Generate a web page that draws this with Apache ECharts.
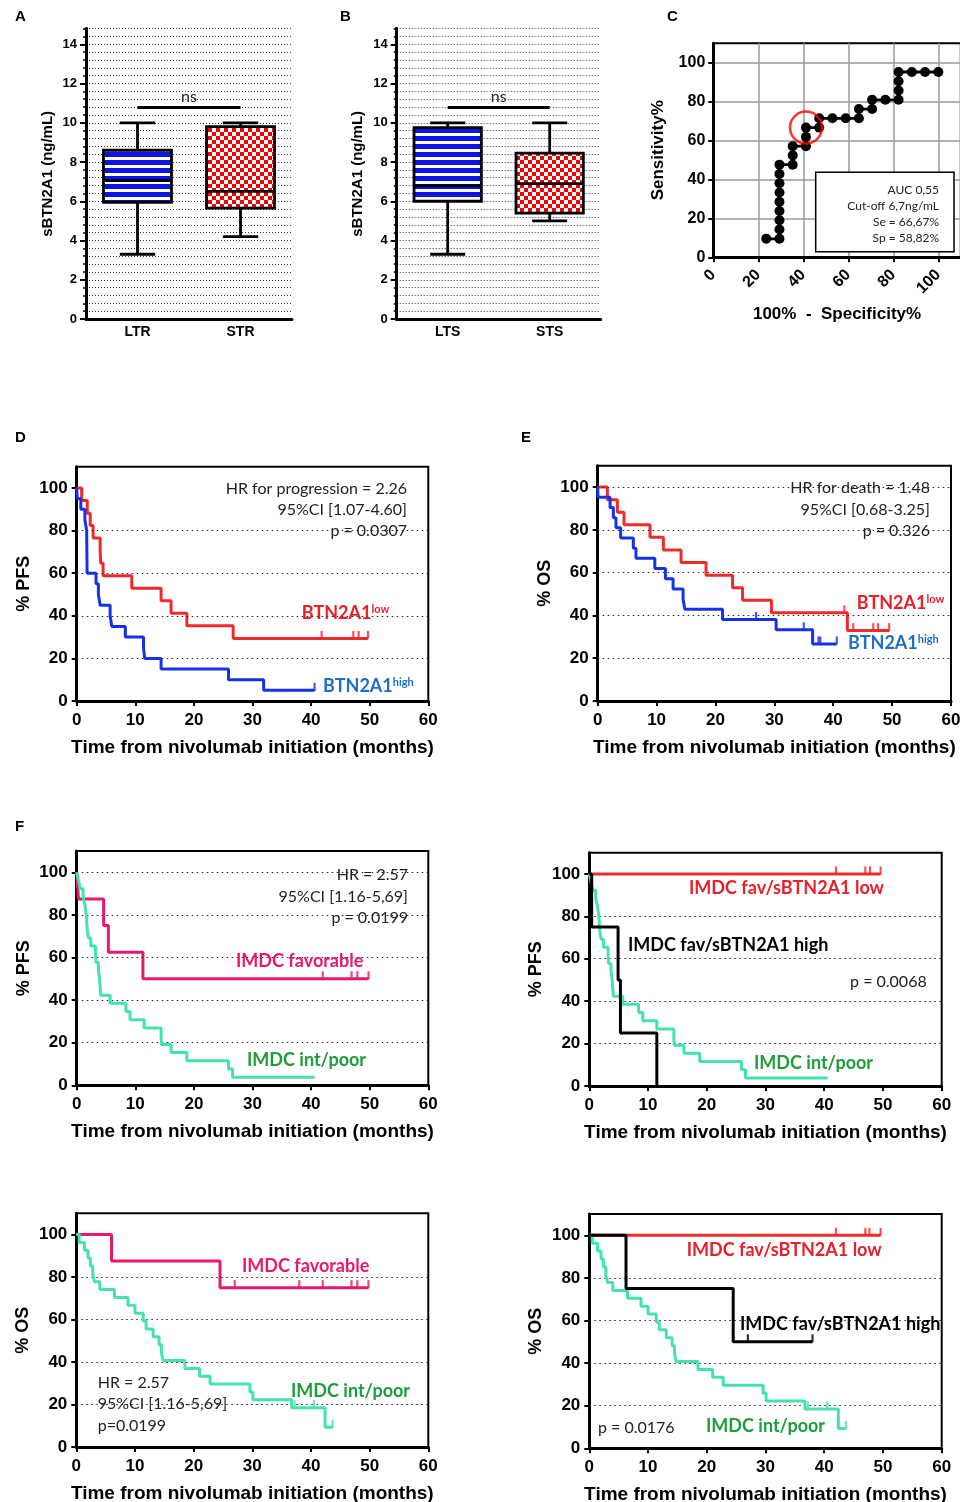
<!DOCTYPE html>
<html><head><meta charset="utf-8">
<script src="https://cdn.jsdelivr.net/npm/echarts@6/dist/echarts.min.js"></script>
<style>html,body{margin:0;padding:0;background:#fff}#c{width:960px;height:1502px}</style>
</head><body><div id="c"></div>
<script>
// ================= DATA =================
// Panels A/B: box plots [min, Q1, median, Q3, max]
const boxCatsA = ['LTR', 'STR'];
const boxA_LTR = [3.3, 5.95, 7.05, 8.6, 10.0];
const boxA_STR = [4.2, 5.65, 6.5, 9.8, 10.0];
const boxCatsB = ['LTS', 'STS'];
const boxB_LTS = [3.3, 6.0, 6.8, 9.75, 10.0];
const boxB_STS = [5.0, 5.4, 6.9, 8.45, 10.0];
const nsLevel = 10.8;
const boxTicks = [0, 2, 4, 6, 8, 10, 12, 14];

// Panel C: ROC curve
const rocX = [23.53, 29.41, 29.41, 29.41, 29.41, 29.41, 29.41, 29.41, 29.41, 29.41, 35.29, 35.29, 35.29, 41.18, 41.18, 41.18, 47.06, 47.06, 52.94, 58.82, 64.71, 64.71, 70.59, 70.59, 76.47, 82.35, 82.35, 82.35, 82.35, 88.24, 94.12, 100];
const rocY = [9.52, 9.52, 14.29, 19.05, 23.81, 28.57, 33.33, 38.10, 42.86, 47.62, 47.62, 52.38, 57.14, 57.14, 61.90, 66.67, 66.67, 71.43, 71.43, 71.43, 71.43, 76.19, 76.19, 80.95, 80.95, 80.95, 85.71, 90.48, 95.24, 95.24, 95.24, 95.24];
const rocCutoff = [41.18, 66.67];
const rocTicks = [0, 20, 40, 60, 80, 100];
const rocText = ['AUC 0,55', 'Cut-off 6,7ng/mL', 'Se = 66,67%', 'Sp = 58,82%'];

// Kaplan-Meier axes
const kmPctTicks = [0, 20, 40, 60, 80, 100];

// Panel D (PFS by BTN2A1)
const dLowT = [0, 0.85, 1.8, 2.3, 2.8, 4.0, 4.1, 4.5, 9.4, 14.4, 16.1, 18.8, 26.7, 49.7];
const dLowS = [100, 94.1, 88.2, 82.4, 76.5, 70.6, 64.7, 58.8, 52.9, 47.1, 41.2, 35.3, 29.4, 29.4];
const dLowCens = [41.8, 47.2, 48.1, 49.7];
const dHighT = [0, 0.1, 0.7, 1.4, 1.7, 1.72, 1.74, 1.76, 1.78, 3.3, 3.7, 4.0, 5.7, 6.0, 8.3, 11.4, 11.6, 14.4, 25.9, 31.9, 40.6];
const dHighS = [100, 95, 90, 85, 80, 75, 70, 65, 60, 55, 50, 45, 40, 35, 30, 25, 20, 15, 10, 5, 5];
const dHighCens = [40.6];
const dGrid = [20, 40, 60, 80];

// Panel E (OS by BTN2A1)
const eLowT = [0, 1.64, 3.34, 4.47, 8.88, 11.15, 14.15, 18.4, 22.9, 24.6, 29.5, 42.4, 49.5];
const eLowS = [100, 94.1, 88.2, 82.4, 76.5, 70.6, 64.7, 58.8, 52.9, 47.1, 41.2, 32.9, 32.9];
const eLowCens = [41.9, 43.4, 46.8, 47.6, 49.5];
const eHighT = [0, 0.05, 2.1, 2.66, 3.1, 3.9, 6.05, 6.5, 9.7, 11.5, 12.8, 14.5, 14.8, 21.2, 30.3, 36.5, 40.6];
const eHighS = [100, 95.2, 90.5, 85.7, 81.0, 76.2, 71.4, 66.7, 61.9, 57.1, 52.4, 47.6, 42.9, 38.1, 33.3, 26.7, 26.7];
const eHighCens = [26.9, 35.0, 37.5, 37.8, 40.6];
const eGrid = [20, 40, 60, 80, 100];

// Panel F (PFS / OS by IMDC and sBTN2A1)
const pfsFavT = [0, 0.3, 4.6, 5.4, 11.3, 49.8];
const pfsFavS = [100, 87.5, 75, 62.5, 50, 50];
const pfsFavCens = [42.0, 46.9, 47.9, 49.8];
const pfsPoorT = [0, 0.3, 0.6, 1.1, 1.4, 1.6, 1.7, 1.8, 2.0, 2.4, 3.2, 3.3, 3.7, 3.9, 4.0, 4.1, 5.7, 8.4, 9.1, 11.5, 14.4, 14.45, 16.1, 18.8, 25.9, 26.6, 40.6];
const pfsPoorS = [100, 96.2, 92.3, 88.5, 84.6, 80.8, 76.9, 73.1, 69.2, 65.4, 61.5, 57.7, 53.8, 50, 46.2, 42.3, 38.5, 34.6, 30.8, 26.9, 23.1, 19.2, 15.4, 11.5, 7.7, 3.8, 3.8];
const pfsFavLowT = [0, 49.6];
const pfsFavLowS = [100, 100];
const pfsFavLowCens = [42.0, 47.0, 47.8, 49.6];
const pfsFavHighT = [0, 0.4, 4.9, 5.3, 11.5];
const pfsFavHighS = [100, 75, 50, 25, 0];
const f1Grid = [20, 40, 60, 80, 100];
const f2Grid = [20, 40, 60, 80];

const osFavT = [0, 6.0, 24.5, 49.8];
const osFavS = [100, 87.5, 75, 75];
const osFavCens = [27.0, 38.0, 42.0, 46.9, 47.9, 49.8];
const osPoorT = [0, 0.5, 1.4, 2.0, 2.4, 2.8, 3.1, 4.0, 6.5, 8.8, 10.0, 11.4, 11.9, 13.1, 14.1, 14.5, 14.8, 18.5, 21.0, 22.8, 29.6, 30.1, 36.7, 42.4, 43.7];
const osPoorS = [100, 96.3, 92.6, 88.9, 85.2, 81.5, 77.8, 74.1, 70.4, 66.7, 63.0, 59.3, 55.6, 51.9, 48.1, 44.4, 40.7, 37.0, 33.3, 29.6, 25.9, 22.2, 18.5, 9.3, 9.3];
const osPoorCens = [37.2, 40.5, 43.7];
const osFavLowT = [0, 49.6];
const osFavLowS = [100, 100];
const osFavLowCens = [42.0, 47.0, 47.7, 49.6];
const osFavHighT = [0, 6.25, 24.5, 38.0];
const osFavHighS = [100, 75, 50, 50];
const osFavHighCens = [27.0, 38.0];
const f3Grid = [20, 40, 60, 80];
const f4Grid = [20, 40, 60, 80];

// ================= STYLE =================
const C = {
  red: '#f02a2a', blue: '#1632e6', redLbl: '#e8202a', blueLbl: '#1f6ec6',
  pink: '#e8186a', teal: '#44e2b0', green: '#1e9e3a', black: '#000'
};
const AX = 'Liberation Sans';
const TX = 'Lato';
const KM_TITLE_X = 'Time from nivolumab initiation (months)';
const KMW = 3;

function stripeCanvas() {
  const c = document.createElement('canvas'); c.width = 8; c.height = 8;
  const g = c.getContext('2d');
  g.fillStyle = '#0a14e6'; g.fillRect(0, 0, 8, 8);
  g.fillStyle = '#ffffff'; g.fillRect(0, 5, 8, 3);
  return c;
}
function checkerCanvas() {
  const s = 4; const c = document.createElement('canvas'); c.width = 2 * s; c.height = 2 * s;
  const g = c.getContext('2d');
  g.fillStyle = '#ffffff'; g.fillRect(0, 0, 2 * s, 2 * s);
  g.fillStyle = '#f00000'; g.fillRect(0, 0, s, s); g.fillRect(s, s, s, s);
  return c;
}
const patterns = [{ image: stripeCanvas(), repeat: 'repeat' }, { image: checkerCanvas(), repeat: 'repeat' }];

function boxRender(params, api) {
  const cat = api.value(0);
  const v = [api.value(1), api.value(2), api.value(3), api.value(4), api.value(5)];
  const p = v.map(val => api.coord([cat, val]));
  const bw = api.size([1, 0])[0] * 0.66;
  const cw = bw * 0.52;
  const x = p[0][0];
  const ls = { stroke: '#000', lineWidth: 2.8 };
  return {
    type: 'group', children: [
      { type: 'line', shape: { x1: x, y1: p[4][1], x2: x, y2: p[3][1] }, style: ls },
      { type: 'line', shape: { x1: x, y1: p[1][1], x2: x, y2: p[0][1] }, style: ls },
      { type: 'line', shape: { x1: x - cw / 2, y1: p[4][1], x2: x + cw / 2, y2: p[4][1] }, style: ls },
      { type: 'line', shape: { x1: x - cw / 2, y1: p[0][1], x2: x + cw / 2, y2: p[0][1] }, style: ls },
      { type: 'rect', shape: { x: x - bw / 2, y: p[3][1], width: bw, height: p[1][1] - p[3][1] }, style: { fill: patterns[params.dataIndex], stroke: '#000', lineWidth: 2.8 } },
      { type: 'line', shape: { x1: x - bw / 2, y1: p[2][1], x2: x + bw / 2, y2: p[2][1] }, style: ls }
    ]
  };
}

function zip(t, s) { return t.map((v, i) => [v, s[i]]); }
function kmAt(t, s, time) { let y = s[0]; for (let i = 0; i < t.length; i++) { if (t[i] <= time + 1e-9) y = s[i]; } return y; }

function kmLine(idx, t, s, color, z) {
  return { type: 'line', xAxisIndex: idx, yAxisIndex: idx, data: zip(t, s), step: 'end', showSymbol: false, symbol: 'none',
    lineStyle: { color: color, width: KMW }, itemStyle: { color: color }, z: z || 3, silent: true, animation: false };
}
function kmCens(idx, t, s, times, color, z) {
  return { type: 'scatter', xAxisIndex: idx, yAxisIndex: idx, data: times.map(tt => [tt, kmAt(t, s, tt)]),
    symbol: 'rect', symbolSize: [2.2, 8], symbolOffset: [0, -3.5], itemStyle: { color: color }, z: (z || 3) + 1, silent: true, animation: false };
}
function gridLines(idx, vals) {
  return { type: 'line', xAxisIndex: idx, yAxisIndex: idx, data: [], z: 1, silent: true, animation: false,
    markLine: { silent: true, symbol: ['none', 'none'], label: { show: false }, animation: false,
      lineStyle: { type: [1.5, 3.5], color: '#222', width: 1.2 }, data: vals.map(v => ({ yAxis: v })) } };
}

// ================= LAYOUT =================
const grids = [
  { left: 86, top: 28.6, width: 206, height: 290.4 },          // 0 A
  { left: 396.7, top: 28.6, width: 204, height: 290.4 },        // 1 B
  { left: 713.3, top: 43.3, width: 247.5, height: 214 },        // 2 C
  { left: 76.7, top: 466.7, width: 351.6, height: 234.3 },      // 3 D
  { left: 597.7, top: 465.7, width: 353.3, height: 235.3 },     // 4 E
  { left: 76.7, top: 851, width: 351.6, height: 234.3 },        // 5 F1
  { left: 589.3, top: 852.7, width: 352.4, height: 233.3 },     // 6 F2
  { left: 76.3, top: 1213.3, width: 352, height: 233.7 },       // 7 F3
  { left: 589.3, top: 1214, width: 352.4, height: 234.3 }       // 8 F4
].map((g, i) => Object.assign({ outerBoundsMode: 'none', containLabel: false, show: i >= 2, borderColor: '#000', borderWidth: 2, backgroundColor: 'transparent' }, g));

const axLine = { show: true, onZero: false, lineStyle: { color: '#000', width: 3 } };
const numLbl = (fs) => ({ color: '#000', fontFamily: AX, fontWeight: 'bold', fontSize: fs });

const xAxes = [], yAxes = [];
// A, B
[[0, boxCatsA], [1, boxCatsB]].forEach(([i, cats]) => {
  xAxes.push({ type: 'category', gridIndex: i, data: cats, axisLine: axLine, axisTick: { show: false },
    axisLabel: Object.assign(numLbl(14), { margin: 6 }), splitLine: { show: false } });
});
// C
xAxes.push({ type: 'value', gridIndex: 2, min: 0, max: 110, interval: 20, axisLine: axLine,
  axisTick: { show: true, length: 5, lineStyle: { color: '#000', width: 2 }, customValues: rocTicks },
  axisLabel: Object.assign(numLbl(16), { rotate: 45, margin: 15, customValues: rocTicks }),
  splitLine: { show: true, lineStyle: { color: '#9a9a9a', width: 1.5 } },
  name: '100%  -  Specificity%', nameLocation: 'middle', nameGap: 49, nameTextStyle: numLbl(17) });
// KM x axes
for (let i = 3; i <= 8; i++) {
  xAxes.push({ type: 'value', gridIndex: i, min: 0, max: 60, interval: 10, axisLine: axLine,
    axisTick: { show: true, length: 5, lineStyle: { color: '#000', width: 2 } },
    axisLabel: Object.assign(numLbl(17), { margin: 11 }), splitLine: { show: false },
    name: KM_TITLE_X, nameLocation: 'middle', nameGap: 37, nameTextStyle: numLbl(19) });
}
// y axes: A, B primary (minor grid every 0.4)
[0, 1].forEach(i => {
  yAxes.push({ type: 'value', gridIndex: i, position: 'left', min: 0, max: 14.8, interval: 0.4, axisLine: axLine,
    axisTick: { show: true, length: 3, lineStyle: { color: '#000', width: 1.5 } }, axisLabel: { show: false },
    splitLine: { show: true, lineStyle: { type: [1, 2], color: '#333', width: 1 } } });
});
// C
yAxes.push({ type: 'value', gridIndex: 2, min: 0, max: 110, interval: 20, axisLine: axLine,
  axisTick: { show: true, length: 5, lineStyle: { color: '#000', width: 2 }, customValues: rocTicks },
  axisLabel: Object.assign(numLbl(16), { margin: 8, customValues: rocTicks }),
  splitLine: { show: true, lineStyle: { color: '#9a9a9a', width: 1.5 } },
  name: 'Sensitivity%', nameLocation: 'middle', nameGap: 46, nameTextStyle: numLbl(17) });
// KM y axes
const kmYNames = { 3: '% PFS', 4: '% OS', 5: '% PFS', 6: '% PFS', 7: '% OS', 8: '% OS' };
for (let i = 3; i <= 8; i++) {
  yAxes.push({ type: 'value', gridIndex: i, min: 0, max: 110, axisLine: axLine,
    axisTick: { show: true, length: 5, lineStyle: { color: '#000', width: 2 }, customValues: kmPctTicks },
    axisLabel: Object.assign(numLbl(17), { margin: 9, customValues: kmPctTicks }), splitLine: { show: false },
    name: kmYNames[i], nameLocation: 'middle', nameGap: 44, nameTextStyle: numLbl(18) });
}
// A, B major ticks + labels (index 9, 10)
[0, 1].forEach(i => {
  yAxes.push({ type: 'value', gridIndex: i, position: 'left', min: 0, max: 14.8, axisLine: axLine,
    axisTick: { show: true, length: 6, lineStyle: { color: '#000', width: 2 }, customValues: boxTicks },
    axisLabel: Object.assign(numLbl(13), { margin: 9, customValues: boxTicks }), splitLine: { show: false },
    name: 'sBTN2A1 (ng/mL)', nameLocation: 'middle', nameGap: 31, nameTextStyle: numLbl(15) });
});

// ================= SERIES =================
const series = [];
function boxSeries(i, yIdx, a, b) {
  return { type: 'custom', xAxisIndex: i, yAxisIndex: yIdx, renderItem: boxRender, silent: true, animation: false, z: 3,
    data: [[0].concat(a), [1].concat(b)],
    markLine: { silent: true, symbol: ['none', 'none'], animation: false, lineStyle: { color: '#000', width: 2.8, type: 'solid' },
      label: { show: true, position: 'middle', formatter: 'ns', color: '#222', fontFamily: TX, fontSize: 16, distance: 2 },
      data: [[{ coord: [0, nsLevel] }, { coord: [1, nsLevel] }]] } };
}
series.push(boxSeries(0, 0, boxA_LTR, boxA_STR));
series.push(boxSeries(1, 1, boxB_LTS, boxB_STS));
// ROC
series.push({ type: 'line', xAxisIndex: 2, yAxisIndex: 2, data: zip(rocX, rocY), symbol: 'circle', symbolSize: 10, showSymbol: true,
  lineStyle: { color: '#000', width: 2.8 }, itemStyle: { color: '#000' }, silent: true, animation: false, z: 3 });
series.push({ type: 'scatter', xAxisIndex: 2, yAxisIndex: 2, data: [rocCutoff], symbol: 'circle', symbolSize: 32,
  itemStyle: { color: 'rgba(0,0,0,0)', borderColor: '#f00', borderWidth: 2.5 }, silent: true, animation: false, z: 5 });
// D
series.push(gridLines(3, dGrid));
series.push(kmLine(3, dLowT, dLowS, C.red, 3));
series.push(kmCens(3, dLowT, dLowS, dLowCens, C.red, 3));
series.push(kmLine(3, dHighT, dHighS, C.blue, 5));
series.push(kmCens(3, dHighT, dHighS, dHighCens, C.blue, 5));
// E
series.push(gridLines(4, eGrid));
series.push(kmLine(4, eLowT, eLowS, C.red, 3));
series.push(kmCens(4, eLowT, eLowS, eLowCens, C.red, 3));
series.push(kmLine(4, eHighT, eHighS, C.blue, 5));
series.push(kmCens(4, eHighT, eHighS, eHighCens, C.blue, 5));
// F1
series.push(gridLines(5, f1Grid));
series.push(kmLine(5, pfsFavT, pfsFavS, C.pink, 3));
series.push(kmCens(5, pfsFavT, pfsFavS, pfsFavCens, C.pink, 3));
series.push(kmLine(5, pfsPoorT, pfsPoorS, C.teal, 5));
// F2
series.push(gridLines(6, f2Grid));
series.push(kmLine(6, pfsFavLowT, pfsFavLowS, C.red, 3));
series.push(kmCens(6, pfsFavLowT, pfsFavLowS, pfsFavLowCens, C.red, 3));
series.push(kmLine(6, pfsPoorT, pfsPoorS, C.teal, 5));
series.push(kmLine(6, pfsFavHighT, pfsFavHighS, '#000', 7));
// F3
series.push(gridLines(7, f3Grid));
series.push(kmLine(7, osFavT, osFavS, C.pink, 3));
series.push(kmCens(7, osFavT, osFavS, osFavCens, C.pink, 3));
series.push(kmLine(7, osPoorT, osPoorS, C.teal, 5));
series.push(kmCens(7, osPoorT, osPoorS, osPoorCens, C.teal, 5));
// F4
series.push(gridLines(8, f4Grid));
series.push(kmLine(8, osFavLowT, osFavLowS, C.red, 3));
series.push(kmCens(8, osFavLowT, osFavLowS, osFavLowCens, C.red, 3));
series.push(kmLine(8, osPoorT, osPoorS, C.teal, 5));
series.push(kmCens(8, osPoorT, osPoorS, osPoorCens, C.teal, 5));
series.push(kmLine(8, osFavHighT, osFavHighS, '#000', 7));
series.push(kmCens(8, osFavHighT, osFavHighS, osFavHighCens, '#000', 7));

// ================= TEXT =================
const G = [];
function txt(x, y, text, opt) {
  opt = opt || {};
  G.push({ type: 'text', x: x, y: y, z: 20, silent: true, style: Object.assign({ text: text, fill: opt.color || '#222',
    font: (opt.weight || 'normal') + ' ' + (opt.size || 16) + 'px ' + (opt.family || TX),
    textAlign: opt.align || 'left', textVerticalAlign: 'middle' }, opt.rich ? { rich: opt.rich } : {}) });
}
// panel letters
[['A', 15, 17], ['B', 340, 17], ['C', 667, 17], ['D', 15, 438], ['E', 521, 438], ['F', 15, 827]].forEach(l =>
  txt(l[1], l[2], l[0], { family: AX, weight: 'bold', size: 15, color: '#000' }));
// C legend box
G.push({ type: 'rect', z: 15, silent: true, shape: { x: 815.7, y: 172.3, width: 138.3, height: 79.4 }, style: { fill: '#fff', stroke: '#000', lineWidth: 1.5 } });
rocText.forEach((t, k) => txt(939, 190 + 16 * k, t, { align: 'right', size: 12 }));
// D
txt(407, 489, 'HR for progression = 2.26', { align: 'right' });
txt(407, 510, '95%CI [1.07-4.60]', { align: 'right' });
txt(407, 531, 'p = 0.0307', { align: 'right' });
const supRich = (col) => ({ m: { fontFamily: TX, fontWeight: 'bold', fontSize: 18, fill: col, color: col }, s: { fontFamily: TX, fontWeight: 'bold', fontSize: 11, fill: col, color: col, verticalAlign: 'top', padding: [0, 0, 8, 0] } });
txt(301.7, 613, '{m|BTN2A1}{s|low}', { rich: supRich(C.redLbl), color: C.redLbl });
txt(323, 686, '{m|BTN2A1}{s|high}', { rich: supRich(C.blueLbl), color: C.blueLbl });
// E
txt(930, 488, 'HR for death = 1.48', { align: 'right' });
txt(930, 510, '95%CI [0.68-3.25]', { align: 'right' });
txt(930, 531, 'p = 0.326', { align: 'right' });
txt(856.7, 603, '{m|BTN2A1}{s|low}', { rich: supRich(C.redLbl), color: C.redLbl });
txt(848, 643, '{m|BTN2A1}{s|high}', { rich: supRich(C.blueLbl), color: C.blueLbl });
// F1
txt(408, 875, 'HR = 2.57', { align: 'right' });
txt(408, 897, '95%CI [1.16-5,69]', { align: 'right' });
txt(408, 918, 'p = 0.0199', { align: 'right' });
txt(236, 961, 'IMDC favorable', { color: C.pink, size: 18, weight: 'bold' });
txt(247, 1060, 'IMDC int/poor', { color: C.green, size: 18, weight: 'bold' });
// F2
txt(689, 888, 'IMDC fav/sBTN2A1 low', { color: C.redLbl, size: 18, weight: 'bold' });
txt(628, 945, 'IMDC fav/sBTN2A1 high', { color: '#000', size: 18, weight: 'bold' });
txt(926.7, 981.7, 'p = 0.0068', { align: 'right' });
txt(754, 1063, 'IMDC int/poor', { color: C.green, size: 18, weight: 'bold' });
// F3
txt(97.7, 1382.7, 'HR = 2.57');
txt(97.7, 1404, '95%CI [1.16-5,69]');
txt(97.7, 1425.7, 'p=0.0199');
txt(242, 1265.7, 'IMDC favorable', { color: C.pink, size: 18, weight: 'bold' });
txt(291, 1390.7, 'IMDC int/poor', { color: C.green, size: 18, weight: 'bold' });
// F4
txt(598, 1427.7, 'p = 0.0176');
txt(686.7, 1250, 'IMDC fav/sBTN2A1 low', { color: C.redLbl, size: 18, weight: 'bold' });
txt(740, 1324, 'IMDC fav/sBTN2A1 high', { color: '#000', size: 18, weight: 'bold' });
txt(706, 1426, 'IMDC int/poor', { color: C.green, size: 18, weight: 'bold' });

const chart = echarts.init(document.getElementById('c'), null, { renderer: 'canvas' });
chart.setOption({ animation: false, backgroundColor: '#fff', grid: grids, xAxis: xAxes, yAxis: yAxes, series: series, graphic: { elements: G } });
</script></body></html>
